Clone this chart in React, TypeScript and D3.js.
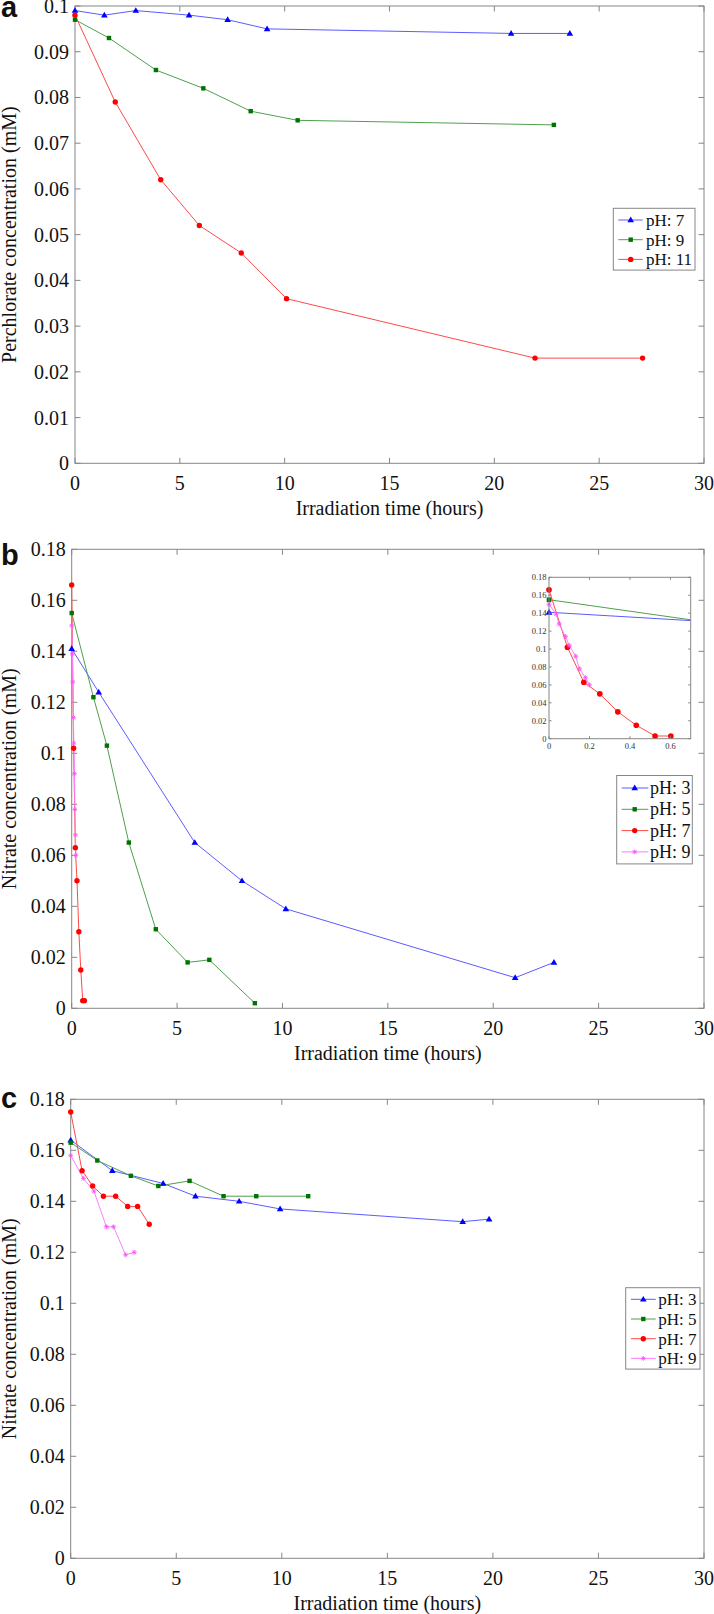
import React from 'react';
import * as d3 from 'd3';

// ---------- tick values / labels ----------
const xTickValues = [0, 5, 10, 15, 20, 25, 30];
const aYTickValues = [0, 0.01, 0.02, 0.03, 0.04, 0.05, 0.06, 0.07, 0.08, 0.09, 0.1];
const bcYTickValues = [0, 0.02, 0.04, 0.06, 0.08, 0.1, 0.12, 0.14, 0.16, 0.18];
const insetXTickValues = [0, 0.2, 0.4, 0.6];
const insetYTickValues = [0, 0.02, 0.04, 0.06, 0.08, 0.1, 0.12, 0.14, 0.16, 0.18];

const aLegendLabels = ['pH: 7', 'pH: 9', 'pH: 11'];
const bcLegendLabels = ['pH: 3', 'pH: 5', 'pH: 7', 'pH: 9'];

const xTitle = 'Irradiation time (hours)';
const aYTitle = 'Perchlorate concentration (mM)';
const bcYTitle = 'Nitrate concentration (mM)';

// ---------- panel a: perchlorate ----------
const aTimePH7 = [0, 1.4, 2.9, 5.44, 7.28, 9.16, 20.8, 23.6];
const aConcPH7 = [0.099, 0.098, 0.099, 0.098, 0.097, 0.095, 0.094, 0.094];
const aTimePH9 = [0, 1.62, 3.86, 6.12, 8.38, 10.62, 22.84];
const aConcPH9 = [0.097, 0.093, 0.086, 0.082, 0.077, 0.075, 0.074];
const aTimePH11 = [0, 1.92, 4.09, 5.93, 7.93, 10.09, 21.94, 27.07];
const aConcPH11 = [0.098, 0.079, 0.062, 0.052, 0.046, 0.036, 0.023, 0.023];

// ---------- panel b: nitrate ----------
const bTimePH3 = [0, 1.28, 5.84, 8.08, 10.16, 21.04, 22.88];
const bConcPH3 = [0.141, 0.124, 0.065, 0.05, 0.039, 0.012, 0.018];
const bTimePH5 = [0, 1.03, 1.67, 2.71, 3.99, 5.5, 6.53, 8.69];
const bConcPH5 = [0.155, 0.122, 0.103, 0.065, 0.031, 0.018, 0.019, 0.002];
const bTimePH7 = [0, 0.091, 0.172, 0.251, 0.34, 0.431, 0.524, 0.602];
const bConcPH7 = [0.166, 0.102, 0.063, 0.05, 0.03, 0.015, 0.003, 0.003];
const bTimePH9 = [0, 0.035, 0.05, 0.081, 0.1, 0.132, 0.15, 0.18, 0.2];
const bConcPH9 = [0.15, 0.139, 0.128, 0.114, 0.104, 0.092, 0.078, 0.068, 0.06];

// ---------- panel c: nitrate ----------
const cTimePH3 = [0, 1.97, 4.38, 5.91, 7.98, 9.92, 18.57, 19.82];
const cConcPH3 = [0.164, 0.152, 0.147, 0.142, 0.14, 0.137, 0.132, 0.133];
const cTimePH5 = [0, 1.26, 2.85, 4.15, 5.63, 7.24, 8.79, 11.25];
const cConcPH5 = [0.163, 0.156, 0.15, 0.146, 0.148, 0.142, 0.142, 0.142];
const cTimePH7 = [0, 0.54, 1.04, 1.55, 2.13, 2.7, 3.17, 3.72];
const cConcPH7 = [0.175, 0.152, 0.146, 0.142, 0.142, 0.138, 0.138, 0.131];
const cTimePH9 = [0, 0.6, 1.1, 1.69, 2.03, 2.6, 3.01];
const cConcPH9 = [0.158, 0.149, 0.144, 0.13, 0.13, 0.119, 0.12];

// ---------- styles ----------
type Kind = 'tri' | 'sq' | 'circ' | 'star';
interface Style { line: string; fill: string; kind: Kind }
const BLUE: Style = { line: '#5c5cff', fill: '#0000ff', kind: 'tri' };
const GREEN: Style = { line: '#4f9f4f', fill: '#007400', kind: 'sq' };
const RED: Style = { line: '#ff4a4a', fill: '#ff0000', kind: 'circ' };
const MAGENTA: Style = { line: '#ff7cff', fill: '#ff55ff', kind: 'star' };

interface Series { t: number[]; v: number[]; style: Style }

const SERIF = "'Liberation Serif', 'Times New Roman', serif";
const SANS = "'Liberation Sans', Arial, sans-serif";
const AXIS = '#868686';

function Marker({ kind, x, y, color, s = 1 }: { kind: Kind; x: number; y: number; color: string; s?: number }) {
  if (kind === 'tri') {
    return <path d={`M${x},${y - 3.4 * s}L${x + 3.3 * s},${y + 2.3 * s}L${x - 3.3 * s},${y + 2.3 * s}Z`} fill={color} />;
  }
  if (kind === 'sq') {
    return <rect x={x - 2.2 * s} y={y - 2.2 * s} width={4.4 * s} height={4.4 * s} fill={color} />;
  }
  if (kind === 'circ') {
    return <circle cx={x} cy={y} r={2.7 * s} fill={color} />;
  }
  const r = 2.4 * s;
  const d = r * 0.72;
  return (
    <path
      d={`M${x - r},${y}H${x + r}M${x},${y - r}V${y + r}M${x - d},${y - d}L${x + d},${y + d}M${x - d},${y + d}L${x + d},${y - d}`}
      stroke={color}
      strokeWidth={0.9}
      fill="none"
    />
  );
}

const fmt = (v: number) => String(+v.toFixed(3));

interface Frame { l: number; r: number; t: number; b: number }

function Axes({ f, xs, ys, xTicks, yTicks, tick, fs, xDy, yDx, yDy, color }: any) {
  return (
    <g>
      <rect x={f.l} y={f.t} width={f.r - f.l} height={f.b - f.t} fill="none" stroke={AXIS} strokeWidth={1} />
      {xTicks.map((v: number) => (
        <g key={'x' + v}>
          <line x1={xs(v)} x2={xs(v)} y1={f.b} y2={f.b - tick} stroke={AXIS} />
          <line x1={xs(v)} x2={xs(v)} y1={f.t} y2={f.t + tick} stroke={AXIS} />
          <text x={xs(v)} y={f.b + xDy} textAnchor="middle" fontFamily={SERIF} fontSize={fs} fill={color}>
            {fmt(v)}
          </text>
        </g>
      ))}
      {yTicks.map((v: number) => (
        <g key={'y' + v}>
          <line x1={f.l} x2={f.l + tick} y1={ys(v)} y2={ys(v)} stroke={AXIS} />
          <line x1={f.r} x2={f.r - tick} y1={ys(v)} y2={ys(v)} stroke={AXIS} />
          <text x={f.l - yDx} y={ys(v) + yDy} textAnchor="end" fontFamily={SERIF} fontSize={fs} fill={color}>
            {fmt(v)}
          </text>
        </g>
      ))}
    </g>
  );
}

function SeriesMarks({ series, xs, ys, clipId, ms = 1 }: any) {
  const line = d3
    .line<[number, number]>()
    .x((d) => xs(d[0]))
    .y((d) => ys(d[1]));
  return (
    <g>
      <g clipPath={clipId ? `url(#${clipId})` : undefined}>
        {series.map((s: Series, i: number) => (
          <path
            key={i}
            d={line(s.t.map((t, j) => [t, s.v[j]] as [number, number])) || ''}
            fill="none"
            stroke={s.style.line}
            strokeWidth={1}
          />
        ))}
      </g>
      {series.map((s: Series, i: number) => (
        <g key={'m' + i}>
          {s.t.map((t, j) =>
            t <= xs.domain()[1] ? (
              <Marker key={j} kind={s.style.kind} x={xs(t)} y={ys(s.v[j])} color={s.style.fill} s={ms} />
            ) : null
          )}
        </g>
      ))}
    </g>
  );
}

function Legend({ x, y, w, first, step, bottomPad, labels, styles, lx1, lx2, mx, tx, fs }: any) {
  const h = first + step * (labels.length - 1) + bottomPad;
  return (
    <g>
      <rect x={x} y={y} width={w} height={h} fill="#fff" stroke={AXIS} strokeWidth={1} />
      {labels.map((lab: string, i: number) => {
        const cy = y + first + i * step;
        const st: Style = styles[i];
        return (
          <g key={lab}>
            <line x1={x + lx1} x2={x + lx2} y1={cy} y2={cy} stroke={st.line} strokeWidth={1} />
            <Marker kind={st.kind} x={x + mx} y={cy} color={st.fill} />
            <text x={x + tx} y={cy + 6} fontFamily={SERIF} fontSize={fs} fill="#111">
              {lab}
            </text>
          </g>
        );
      })}
    </g>
  );
}

function Panel({ f, yMax, yTicks, series, yTitle, letter, letterY, children }: any) {
  const xs = d3.scaleLinear().domain([0, 30]).range([f.l, f.r]);
  const ys = d3.scaleLinear().domain([0, yMax]).range([f.b, f.t]);
  return (
    <g>
      <Axes f={f} xs={xs} ys={ys} xTicks={xTickValues} yTicks={yTicks} tick={5.5} fs={20} xDy={27} yDx={6} yDy={7} color="#111" />
      <SeriesMarks series={series} xs={xs} ys={ys} />
      <text x={(f.l + f.r) / 2} y={f.b + 51.5} textAnchor="middle" fontFamily={SERIF} fontSize={20} fill="#111">
        {xTitle}
      </text>
      <text
        transform={`translate(16,${(f.t + f.b) / 2}) rotate(-90)`}
        textAnchor="middle"
        fontFamily={SERIF}
        fontSize={20}
        fill="#111"
      >
        {yTitle}
      </text>
      <text x={1} y={letterY} fontFamily={SANS} fontWeight="bold" fontSize={29} fill="#111">
        {letter}
      </text>
      {children}
    </g>
  );
}

function Inset({ series }: { series: Series[] }) {
  const f: Frame = { l: 549, r: 690.7, t: 577.3, b: 738.7 };
  const xs = d3.scaleLinear().domain([0, 0.7]).range([f.l, f.r]);
  const ys = d3.scaleLinear().domain([0, 0.18]).range([f.b, f.t]);
  return (
    <g>
      <defs>
        <clipPath id="insetClip">
          <rect x={f.l} y={f.t} width={f.r - f.l} height={f.b - f.t} />
        </clipPath>
      </defs>
      <rect x={f.l} y={f.t} width={f.r - f.l} height={f.b - f.t} fill="#fff" />
      <SeriesMarks series={series} xs={xs} ys={ys} clipId="insetClip" ms={1.05} />
      <Axes f={f} xs={xs} ys={ys} xTicks={insetXTickValues} yTicks={insetYTickValues} tick={2.5} fs={8.5} xDy={10} yDx={2.5} yDy={3} color="#333" />
    </g>
  );
}

export default function App() {
  const aSeries: Series[] = [
    { t: aTimePH7, v: aConcPH7, style: BLUE },
    { t: aTimePH9, v: aConcPH9, style: GREEN },
    { t: aTimePH11, v: aConcPH11, style: RED },
  ];
  const bSeries: Series[] = [
    { t: bTimePH3, v: bConcPH3, style: BLUE },
    { t: bTimePH5, v: bConcPH5, style: GREEN },
    { t: bTimePH7, v: bConcPH7, style: RED },
    { t: bTimePH9, v: bConcPH9, style: MAGENTA },
  ];
  const cSeries: Series[] = [
    { t: cTimePH3, v: cConcPH3, style: BLUE },
    { t: cTimePH5, v: cConcPH5, style: GREEN },
    { t: cTimePH7, v: cConcPH7, style: RED },
    { t: cTimePH9, v: cConcPH9, style: MAGENTA },
  ];
  return (
    <svg width={714} height={1614} style={{ position: 'absolute', left: 0, top: 0, display: 'block' }}>
      <rect x={0} y={0} width={714} height={1614} fill="#fff" />
      <Panel f={{ l: 75, r: 704, t: 6, b: 463.3 }} yMax={0.1} yTicks={aYTickValues} series={aSeries} yTitle={aYTitle} letter="a" letterY={17}>
        <Legend x={613.3} y={208.3} w={81.7} first={11.7} step={19.7} bottomPad={10.7} labels={aLegendLabels} styles={[BLUE, GREEN, RED]} lx1={5} lx2={29.4} mx={17.4} tx={32.7} fs={17} />
      </Panel>
      <Panel f={{ l: 71.7, r: 704, t: 549.3, b: 1008.3 }} yMax={0.18} yTicks={bcYTickValues} series={bSeries} yTitle={bcYTitle} letter="b" letterY={565}>
        <Inset series={bSeries} />
        <Legend x={616.7} y={775.5} w={75.6} first={12.5} step={21.3} bottomPad={12} labels={bcLegendLabels} styles={[BLUE, GREEN, RED, MAGENTA]} lx1={5} lx2={31.6} mx={18} tx={33.3} fs={18} />
      </Panel>
      <Panel f={{ l: 70.7, r: 704, t: 1099.3, b: 1558.3 }} yMax={0.18} yTicks={bcYTickValues} series={cSeries} yTitle={bcYTitle} letter="c" letterY={1107.5}>
        <Legend x={625.7} y={1287.7} w={74.3} first={11.6} step={19.7} bottomPad={10.7} labels={bcLegendLabels} styles={[BLUE, GREEN, RED, MAGENTA]} lx1={5.3} lx2={30} mx={17.6} tx={32.6} fs={17} />
      </Panel>
    </svg>
  );
}
